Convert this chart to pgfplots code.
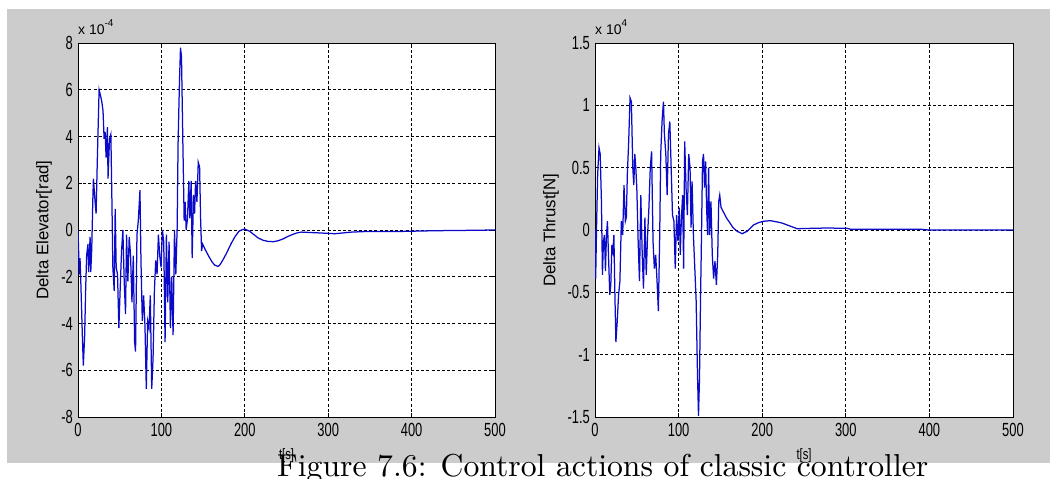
\documentclass[border=0pt]{standalone}
\usepackage{fontspec}
\usepackage{graphicx}
\usepackage{pgfplots}
\pgfplotsset{compat=1.18}
\newfontfamily\matn{Liberation Sans}
\definecolor{figgray}{RGB}{204,204,204}
\definecolor{mblue}{RGB}{10,10,200}

\pgfplotsset{
  matlab/.style={
    scale only axis, height=374pt,
    xmin=0, xmax=500, xtick={0,100,...,500},
    axis background/.style={fill=white},
    axis line style={black, line width=0.9pt},
    grid=major,
    major grid style={black, line width=0.9pt, dash pattern=on 3pt off 2.2pt},
    tick align=inside, major tick length=4pt, tick style={black, line width=0.8pt},
    tick label style={font=\matn\fontsize{19}{19}\selectfont, inner sep=0pt,
      /pgf/number format/assume math mode=true},
    xticklabel={\scalebox{0.68}[1]{\pgfmathprintnumber{\tick}}},
    yticklabel={\scalebox{0.68}[1]{\pgfmathprintnumber{\tick}}},
    yticklabel style={anchor=east, xshift=-5pt},
    xticklabel style={anchor=north, yshift=-6pt},
    every axis x label/.style={at={(axis description cs:0.5,0)}, anchor=center,
      yshift=-39pt, font=\matn\fontsize{15}{15}\selectfont},
    every axis y label/.style={at={(axis description cs:0,0.5)}, rotate=90,
      anchor=center, font=\matn\fontsize{16.8}{16.8}\selectfont},
    xlabel={\scalebox{0.75}[1]{t[s]}},
  }
}

\begin{document}
\begin{tikzpicture}[x=1pt,y=1pt]
\useasboundingbox (0,0) rectangle (1050,479);
\fill[figgray] (7,16) rectangle (1050,470);

% left: delta elevator (x 1e-4 rad)
\begin{axis}[matlab, name=L, at={(78pt,62pt)}, anchor=south west, width=417pt,
  ymin=-8, ymax=8, ytick={-8,-6,...,8},
  ylabel={Delta Elevator[rad]}, y label style={yshift=34pt}]
\addplot[mblue, line width=1.25pt] coordinates {
(0,0) (1.6,-1.9) (2.4,-1.2) (3.2,-2) (5.2,-4.5) (6.4,-5.8) (8,-4.5) (9.2,-2.5)
(10.4,-1.06) (12,-0.6) (12.8,-1.8) (14.5,-0.3) (15.3,-1.8) (16.5,-0.8) (17.7,1.2)
(18.5,2.2) (20.5,1.2) (21.7,0.7) (23.3,3.2) (25.3,6.0) (27.3,5.7) (28.5,5.5)
(30,5.1) (31.3,3.9) (32.5,4.2) (33.7,3.1) (35.3,4.4) (36,2.2) (37.8,3.9)
(39.4,4.1) (40.6,1.4) (41.8,-1.6) (43.4,-2.6) (44.6,0.9) (45.8,-1.6) (47.4,-1.9)
(49,-4.2) (50.6,-2.5) (52.2,-0.9) (53.8,0) (55.4,-2.2) (57,-3.6) (58.2,-0.2)
(59.8,-2.2) (61.4,-0.3) (63,-1.06) (64.7,-3.1) (66.3,-1.1) (67.9,-4.8) (69,-5.2)
(70.7,-0.2) (72.3,0.4) (74.3,1.7) (75.5,-1.3) (77.1,-3.9) (78.7,-2.8) (80.3,-4.1)
(81.9,-6.8) (83.5,-3.9) (85.1,-4.2) (86.7,-2.8) (88.4,-6.8) (90,-5.5) (91.6,-2.6)
(93.2,-1.3) (94.8,-1.9) (96.4,-0.2) (98,-1.1) (99.6,-1.6) (101.2,0) (102.8,-0.5)
(104.4,-4.8) (106,-0.2) (107.6,-3.1) (109.2,-0.5) (110.8,-4.2) (112.4,-2)
(114,-4.5) (115.7,0) (117.3,-1.9) (118.9,0.1) (120,3.7) (121.7,6.4) (122.9,7.8)
(124.1,7.4) (125.7,3.8) (127.3,0.4) (128.5,1.2) (129.7,0) (131.3,0.5) (132.9,2.1)
(134.1,0.5) (135.7,2.1) (136.9,-1.2) (138.5,1.5) (139.8,0.7) (141,2.1) (142.6,1.2)
(144.2,2.9) (145.8,2.7) (147,0.5) (148.2,-0.9) (149.4,-0.6) (152,-0.8) (155.8,-1.06)
(158,-1.2) (161,-1.38) (163.9,-1.5) (167.9,-1.56) (170,-1.5) (173.9,-1.27)
(178,-1.0) (183.9,-0.56) (188,-0.3) (192.8,-0.06) (196,0.0) (200,0.04) (206,-0.06)
(211,-0.2) (216,-0.34) (222,-0.44) (228,-0.49) (234,-0.5) (240,-0.46) (246,-0.38)
(252,-0.27) (258,-0.18) (263,-0.12) (268,-0.09) (292,-0.13) (308,-0.16)
(328,-0.09) (349,-0.06) (389,-0.06) (429,-0.03) (457,-0.02) (500,0)
};
\end{axis}

% right: delta thrust (x 1e4 N)
\begin{axis}[matlab, name=R, at={(595pt,62pt)}, anchor=south west, width=418pt,
  ymin=-1.5, ymax=1.5, ytick={-1.5,-1,...,1.5},
  yticklabel style={/pgf/number format/.cd, fixed, precision=1},
  ylabel={Delta Thrust[N]}, y label style={yshift=44pt}]
\addplot[mblue, line width=1.25pt] coordinates {
(0,0) (0.8,-0.39) (2,0.07) (3.2,0.45) (4.8,0.66) (6.2,0.61) (7.7,0.23) (8.9,-0.36)
(10.1,-0.09) (11.3,-0.04) (12.5,-0.33) (13.7,-0.04) (14.9,0.07) (16.1,-0.2)
(17.7,-0.52) (18.9,-0.44) (20.2,-0.12) (21.4,-0.17) (22.6,-0.04) (23.8,-0.52)
(25,-0.9) (26.6,-0.73) (28.2,-0.52) (29.8,-0.41) (31.5,0.07) (33.1,-0.04)
(34.7,0.36) (36.3,0.07) (37.5,0.1) (38.7,0.45) (40.3,0.71) (41.9,1.06) (43.5,1.03)
(45.2,0.5) (46.4,0.36) (47.6,0.61) (48.8,0.5) (50,0.34) (51.6,-0.09) (53.2,-0.41)
(54.8,0.28) (56.5,-0.2) (58,-0.47) (59.7,0.1) (61.3,-0.36) (62.9,-0.04) (64.5,0.18)
(66.1,0.5) (67.7,0.63) (69.4,-0.09) (71,-0.31) (72.6,-0.2) (74.2,-0.41) (75.8,-0.65)
(77.4,-0.04) (78.6,0.61) (80.2,0.87) (81.9,1.03) (83,0.77) (84.7,0.61) (86.3,0.28)
(87.9,0.77) (89.5,0.87) (91.1,0.5) (92.7,0.12) (94.4,0.07) (96,-0.31) (97.6,0.12)
(99.2,-0.09) (100.8,0.18) (102,-0.2) (103.2,0.07) (104.8,0.28) (106,-0.31)
(107.3,0.71) (108.9,0.34) (110.5,0.12) (112.1,0.61) (113.7,0.5) (114.9,0.02)
(116.1,0.39) (117.7,-0.04) (119.4,-0.31) (121,-0.57) (122.6,-1.16) (123.8,-1.49)
(125,-1.19) (126.2,-0.57) (127.4,-0.04) (128.6,0.55) (129.8,0.61) (131,0.34)
(132.3,0.55) (133.5,0.18) (134.7,-0.04) (135.9,0.5) (137.1,-0.04) (138.7,0.23)
(140.3,-0.2) (141.9,-0.39) (143.5,-0.25) (145.2,-0.44) (146.8,-0.2) (148,0.23)
(149.2,0.28) (150.8,0.18) (154,0.14) (157,0.1) (161,0.06) (165,0.02) (170,-0.01)
(176,-0.03) (182,-0.01) (189.5,0.04) (196,0.06) (201.6,0.07) (209.7,0.075)
(217.7,0.065) (224,0.055) (230,0.04) (236,0.025) (242,0.01) (250,0.012)
(278,0.016) (302,0.013) (306,0.005) (339,0.005) (391,0.005) (399,0) (500,0)
};
\end{axis}

\node[anchor=base west, inner sep=0pt, font=\matn\fontsize{14}{14}\selectfont]
  at ([yshift=8pt]L.north west) {x 10\raisebox{8pt}{\fontsize{10}{10}\selectfont -4}};
\node[anchor=base west, inner sep=0pt, font=\matn\fontsize{14}{14}\selectfont]
  at ([yshift=8pt]R.north west) {x 10\raisebox{8pt}{\fontsize{10}{10}\selectfont 4}};

\node[anchor=base west, inner sep=0pt] at (277,2)
  {\resizebox{651pt}{!}{Figure 7.6: Control actions of classic controller}};
\end{tikzpicture}
\end{document}
